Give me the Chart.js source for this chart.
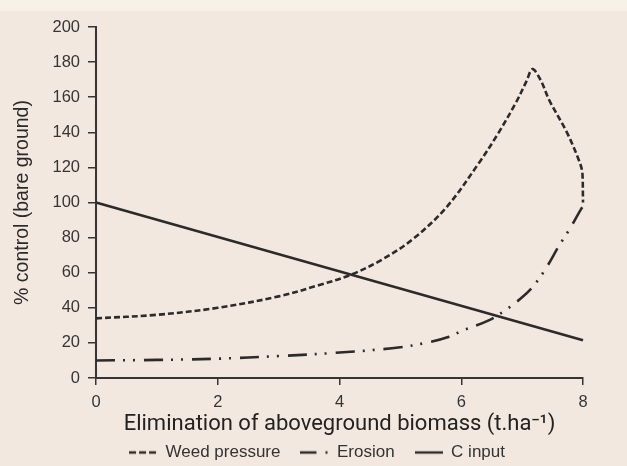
<!DOCTYPE html>
<html><head><meta charset="utf-8">
<script src="https://cdn.jsdelivr.net/npm/chart.js@4.4.0/dist/chart.umd.min.js"></script>
<style>
html,body{margin:0;padding:0;background:#f3e8df;overflow:hidden;}
#band{position:absolute;left:0;top:0;width:627px;height:11px;background:#f8f1e8;}
#wrap{position:absolute;left:0;top:0;width:627px;height:466px;}
</style></head><body>
<div id="band"></div>
<div id="wrap"><canvas id="c" width="627" height="466"></canvas></div>
<script>
const seriesNames = ['Weed pressure', 'Erosion', 'C input'];
const weedX = [0, 1, 2, 3, 3.67, 4.2, 4.7, 5.2, 5.75, 6.3, 6.6, 6.9, 7.07, 7.17, 7.3, 7.45, 7.72, 7.9, 7.99, 8];
const weedY = [34, 36, 40, 46.5, 53, 59, 67.5, 79, 97, 123, 139, 157, 169, 176, 170, 158, 141, 127, 117, 100];
const erosionX = [0, 1, 2, 3, 4, 5, 5.48, 5.8, 6.02, 6.46, 6.74, 7.0, 7.2, 7.4, 7.6, 7.8, 7.93, 8];
const erosionY = [10, 10.3, 11, 12.5, 14.5, 17.5, 20.5, 23.5, 27, 33, 39, 46, 53, 63, 75, 86, 94, 98];
const cInputX = [0, 8];
const cInputY = [100, 21.5];
const xTicks = [0, 2, 4, 6, 8];
const yTicks = [0, 20, 40, 60, 80, 100, 120, 140, 160, 180, 200];

const toPts = (xs, ys) => xs.map((x, i) => ({x: x, y: ys[i]}));
const ink = '#2b2b2b';
const axisCol = '#353535';
const weedDash = [6, 3];
const erosionDash = [19, 8, 2, 8, 2, 9];

// legend marker images: short line samples with the series' dash pattern
function marker(dash, lw) {
  const cv = document.createElement('canvas');
  cv.width = 28; cv.height = 6;
  const g = cv.getContext('2d');
  g.strokeStyle = ink; g.lineWidth = lw; g.setLineDash(dash);
  g.beginPath(); g.moveTo(0, 3); g.lineTo(28, 3); g.stroke();
  return cv;
}
const legendErosionDash = [16, 9, 2, 20];

const base = {showLine: true, pointRadius: 0, pointHoverRadius: 0, fill: false,
  borderColor: ink, backgroundColor: ink, clip: false};

new Chart(document.getElementById('c'), {
  type: 'scatter',
  data: {
    datasets: [
      Object.assign({}, base, {label: seriesNames[0], data: toPts(weedX, weedY), borderWidth: 2.6, borderDash: weedDash, tension: 0.35, pointStyle: marker([7, 3], 2.4)}),
      Object.assign({}, base, {label: seriesNames[1], data: toPts(erosionX, erosionY), borderWidth: 2.6, borderDash: erosionDash, tension: 0.35, pointStyle: marker(legendErosionDash, 2.4)}),
      Object.assign({}, base, {label: seriesNames[2], data: toPts(cInputX, cInputY), borderWidth: 2.6, tension: 0, pointStyle: marker([], 2.4)})
    ]
  },
  options: {
    responsive: false,
    animation: false,
    devicePixelRatio: 1,
    layout: {padding: {left: 7, top: 27, right: 0, bottom: 0}},
    plugins: {
      tooltip: {enabled: false},
      legend: {
        position: 'bottom',
        maxHeight: 42,
        labels: {
          usePointStyle: true, pointStyleWidth: 28, padding: 20,
          font: {family: 'Liberation Sans, Arial, sans-serif', size: 17},
          color: '#333'
        }
      }
    },
    scales: {
      x: {
        type: 'linear', min: 0, max: 8,
        afterBuildTicks: s => { s.ticks = xTicks.map(v => ({value: v})); },
        afterFit: s => { s.height = 46; },
        ticks: {color: axisCol, padding: 8, font: {family: 'Liberation Sans, Arial, sans-serif', size: 16.5}},
        grid: {drawOnChartArea: false, drawTicks: true, tickLength: 7, color: axisCol, lineWidth: 1.5},
        border: {color: axisCol, width: 2},
        title: {display: true, text: 'Elimination of aboveground biomass (t.ha\u207B\u00B9)', color: '#222',
          font: {family: 'Roboto, sans-serif', size: 22, lineHeight: 1}, padding: {top: 0, bottom: -11}}
      },
      y: {
        type: 'linear', min: 0, max: 200,
        afterBuildTicks: s => { s.ticks = yTicks.map(v => ({value: v})); },
        afterFit: s => { s.width = 89; },
        ticks: {color: axisCol, padding: 8, font: {family: 'Liberation Sans, Arial, sans-serif', size: 16.5}},
        grid: {drawOnChartArea: false, drawTicks: true, tickLength: 8, color: axisCol, lineWidth: 1.5},
        border: {color: axisCol, width: 2},
        title: {display: true, text: '% control (bare ground)', color: '#2a2a2a',
          font: {family: 'Liberation Sans, Arial, sans-serif', size: 19.5, lineHeight: 1.2}, padding: {top: 4, bottom: 0}}
      },
      y2: {
        type: 'linear', position: 'right', display: true,
        afterFit: s => { s.width = 44; },
        ticks: {display: false}, grid: {display: false}, border: {display: false}
      }
    }
  }
});
</script>
</body></html>
